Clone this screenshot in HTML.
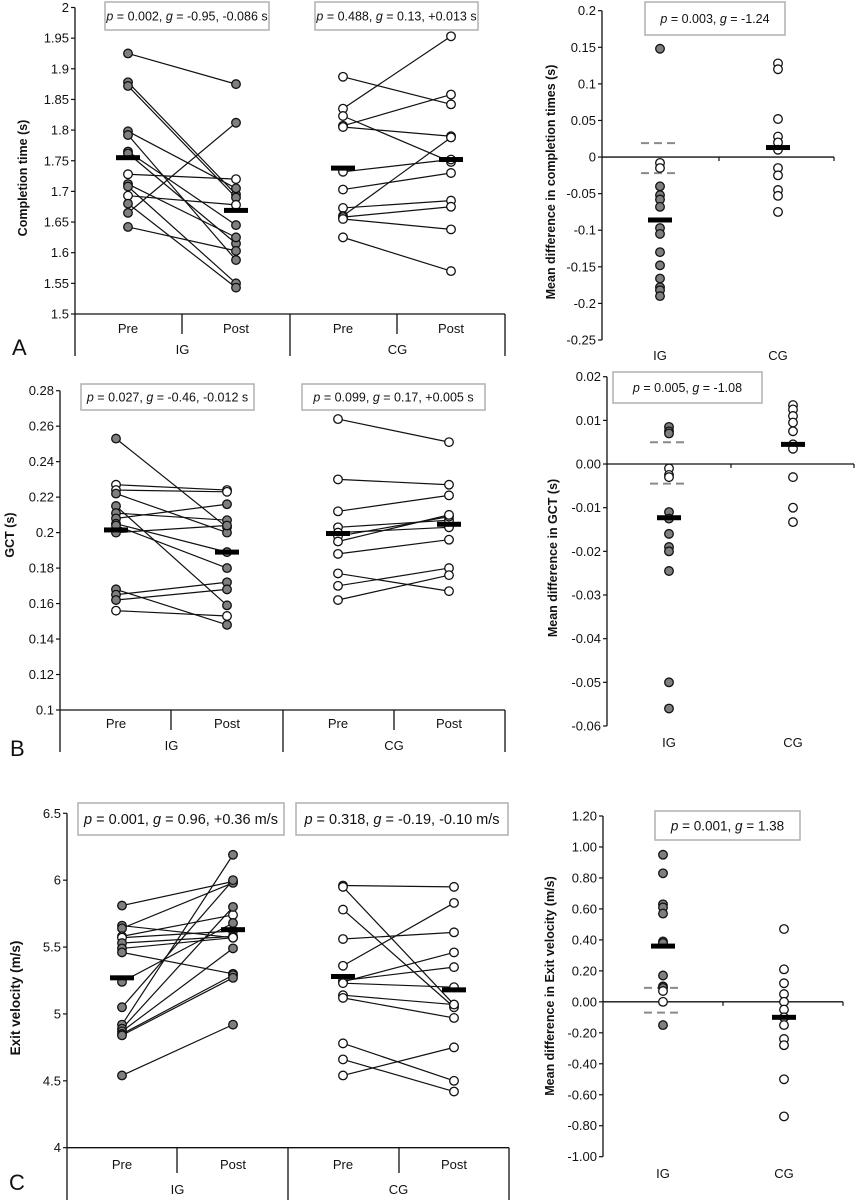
<!DOCTYPE html>
<html><head><meta charset="utf-8">
<style>
html,body{margin:0;padding:0;background:#fff;}
svg{display:block;font-family:"Liberation Sans",Arial,sans-serif;}
</style></head>
<body>
<svg id="fig" width="857" height="1200" viewBox="0 0 857 1200" xmlns="http://www.w3.org/2000/svg"></svg>
<script>
// ---------- DATA ----------
// Panel A: completion time
const aIgPre  = [1.925,1.878,1.872,1.798,1.792,1.765,1.762,1.728,1.712,1.708,1.693,1.680,1.665,1.642];
const aIgPost = [1.875,1.695,1.690,1.705,1.588,1.645,1.615,1.720,1.625,1.550,1.678,1.543,1.812,1.603];
const aIgOpen = [0,0,0,0,0,0,0,1,0,0,1,0,0,0];
const aCgPre  = [1.887,1.835,1.823,1.807,1.805,1.732,1.703,1.673,1.660,1.658,1.655,1.625];
const aCgPost = [1.842,1.953,1.748,1.858,1.790,1.752,1.730,1.685,1.788,1.675,1.638,1.570];
const aMeans  = [1.755,1.669,1.738,1.752];
const aTicks  = ["2","1.95","1.9","1.85","1.8","1.75","1.7","1.65","1.6","1.55","1.5"];
const aDiffIg = [0.148,-0.008,-0.015,-0.040,-0.052,-0.058,-0.068,-0.097,-0.105,-0.130,-0.148,-0.166,-0.178,-0.182,-0.190];
const aDiffIgOpen = [0,1,1,0,0,0,0,0,0,0,0,0,0,0,0];
const aDiffCg = [0.128,0.120,0.052,0.028,0.020,0.010,-0.015,-0.025,-0.045,-0.053,-0.075];
const aDiffMeans = [-0.086,0.013];
const aDiffDash = [0.019,-0.022];
const aDiffTicks = ["0.2","0.15","0.1","0.05","0","-0.05","-0.1","-0.15","-0.2","-0.25"];
// Panel B: GCT
const bIgPre  = [0.253,0.227,0.224,0.222,0.215,0.211,0.208,0.205,0.204,0.200,0.168,0.165,0.162,0.156];
const bIgPost = [0.203,0.224,0.223,0.200,0.159,0.207,0.216,0.189,0.180,0.204,0.148,0.172,0.168,0.153];
const bIgOpen = [0,1,1,0,0,0,0,0,0,0,0,0,0,1];
const bCgPre  = [0.264,0.230,0.212,0.203,0.200,0.198,0.195,0.188,0.177,0.170,0.162];
const bCgPost = [0.251,0.227,0.221,0.207,0.203,0.209,0.210,0.196,0.167,0.180,0.176];
const bMeans  = [0.2015,0.189,0.1995,0.2047];
const bTicks  = ["0.28","0.26","0.24","0.22","0.2","0.18","0.16","0.14","0.12","0.1"];
const bDiffIg = [0.0085,0.0075,0.007,-0.001,-0.0025,-0.003,-0.011,-0.0125,-0.016,-0.019,-0.020,-0.0245,-0.050,-0.056];
const bDiffIgOpen = [0,0,0,1,1,1,0,0,0,0,0,0,0,0];
const bDiffCg = [0.0135,0.0125,0.011,0.0095,0.0075,0.0045,0.0035,-0.003,-0.010,-0.0133];
const bDiffMeans = [-0.0123,0.0045];
const bDiffDash = [0.005,-0.0045];
const bDiffTicks = ["0.02","0.01","0.00","-0.01","-0.02","-0.03","-0.04","-0.05","-0.06"];
// Panel C: exit velocity
const cIgPre  = [5.81,5.66,5.64,5.58,5.57,5.53,5.49,5.46,5.24,5.05,4.92,4.89,4.87,4.85,4.84,4.54];
const cIgPost = [5.99,5.57,5.98,5.74,5.62,5.58,5.57,5.30,5.68,6.00,6.19,5.80,5.49,5.29,5.27,4.92];
const cIgPreOpen  = [0,0,0,1,1,0,0,0,0,0,0,0,0,0,0,0];
const cIgPostOpen = [0,1,0,1,0,0,1,0,0,0,0,0,0,0,0,0];
const cCgPre  = [5.96,5.95,5.78,5.56,5.36,5.24,5.25,5.23,5.14,5.12,4.78,4.66,4.54];
const cCgPost = [5.95,5.07,5.05,5.61,5.83,5.46,5.35,5.20,5.07,4.97,4.50,4.42,4.75];
const cMeans  = [5.27,5.63,5.28,5.18];
const cTicks  = ["6.5","6","5.5","5","4.5","4"];
const cDiffIg = [0.95,0.83,0.63,0.61,0.57,0.39,0.38,0.17,0.10,0.09,0.07,0.00,-0.15];
const cDiffIgOpen = [0,0,0,0,0,0,0,0,0,0,1,1,0];
const cDiffCg = [0.47,0.21,0.12,0.05,0.00,-0.05,-0.10,-0.15,-0.24,-0.28,-0.50,-0.74];
const cDiffMeans = [0.36,-0.10];
const cDiffDash = [0.09,-0.07];
const cDiffTicks = ["1.20","1.00","0.80","0.60","0.40","0.20","0.00","-0.20","-0.40","-0.60","-0.80","-1.00"];

// ---------- RENDER ----------
const NS="http://www.w3.org/2000/svg";
const svg=document.getElementById('fig');
function mk(tag,attrs,parent){const e=document.createElementNS(NS,tag);for(const k in attrs)e.setAttribute(k,attrs[k]);(parent||svg).appendChild(e);return e;}
function txt(str,attrs,parent){const e=mk('text',attrs,parent);e.textContent=str;return e;}
function scale(v0,v1,p0,p1){return v=>p0+(v-v0)*(p1-p0)/(v1-v0);}
const GRAY="#7f7f7f", R=4.3;

function dot(g,x,y,open){
  const c=mk('circle',{cx:x,cy:y,r:R,fill:open?'#fff':GRAY,stroke:'#111','stroke-width':1.3},g);
  
  
}
function meanBar(g,x,y){
  const r=mk('rect',{x:x-12,y:y-2.5,width:24,height:5,fill:'#000'},g);
  
  
}
function box(g,x,y,w,h,parts,fs){
  const b=mk('rect',{x:x,y:y,width:w,height:h,fill:'#fff',stroke:'#b0b0b0','stroke-width':1.5},g);
  
  
  const t=mk('text',{x:x+w/2,y:y+h/2+fs*0.36,'text-anchor':'middle','font-size':fs,fill:'#111'},g);
  
  
  parts.forEach(p=>{const s=mk('tspan',{'font-style':p[1]?'italic':'normal'},t);s.textContent=p[0];});
}

function pairedPanel(o){
  const g=mk('g',{});
  
  
  const y=scale(o.vmin,o.vmax,o.yB,o.yT);
  // y axis
  mk('line',{x1:o.ax,y1:o.yT,x2:o.ax,y2:o.catBottom,stroke:'#111','stroke-width':1.3},g);
  mk('line',{x1:o.ax,y1:o.yB,x2:o.axEnd,y2:o.yB,stroke:'#111','stroke-width':1.3},g);
  const n=o.ticks.length;
  o.ticks.forEach((t,i)=>{
    const v=o.vmax-(o.vmax-o.vmin)*i/(n-1), yy=y(v);
    mk('line',{x1:o.ax-4,y1:yy,x2:o.ax,y2:yy,stroke:'#111','stroke-width':1.2},g);
    const l=txt(t,{x:o.ax-6,y:yy+4.5,'text-anchor':'end','font-size':13,fill:'#111'},g);
    
    
  });
  // category separators
  mk('line',{x1:o.sepShort,y1:o.yB,x2:o.sepShort,y2:o.sepShortEnd,stroke:'#111','stroke-width':1.3},g);
  mk('line',{x1:o.xs[2]+(o.xs[1]-o.sepShort),y1:o.yB,x2:o.xs[2]+(o.xs[1]-o.sepShort),y2:o.sepShortEnd,stroke:'#111','stroke-width':1.3},g);
  mk('line',{x1:o.sepMid,y1:o.yB,x2:o.sepMid,y2:o.catBottom,stroke:'#111','stroke-width':1.3},g);
  mk('line',{x1:o.axEnd,y1:o.yB,x2:o.axEnd,y2:o.catBottom,stroke:'#111','stroke-width':1.3},g);
  ['Pre','Post','Pre','Post'].forEach((s,i)=>{
    const l=txt(s,{x:o.xs[i],y:o.preY,'text-anchor':'middle','font-size':13,fill:'#111'},g);
    
    
  });
  [['IG',(o.ax+o.sepMid)/2],['CG',(o.sepMid+o.axEnd)/2]].forEach(p=>{
    const l=txt(p[0],{x:p[1],y:o.grpY,'text-anchor':'middle','font-size':13,fill:'#111'},g);
    
    
  });
  const tt=txt(o.title,{transform:`translate(${o.titleX},${o.titleY}) rotate(-90)`,'text-anchor':'middle','font-size':o.titleFs||12.5,'font-weight':'bold',fill:'#111'},g);
  
  
  const pl=txt(o.letter,{x:o.letterX,y:o.letterY,'font-size':22,fill:'#111'},g);
  
  
  box(g,o.box1[0],o.box1[1],o.box1[2],o.box1[3],o.box1t,o.boxFs);
  box(g,o.box2[0],o.box2[1],o.box2[2],o.box2[3],o.box2t,o.boxFs);
  // lines
  o.igPre.forEach((v,i)=>{const l=mk('line',{x1:o.xs[0],y1:y(v),x2:o.xs[1],y2:y(o.igPost[i]),stroke:'#111','stroke-width':1.2},g);});
  o.cgPre.forEach((v,i)=>{const l=mk('line',{x1:o.xs[2],y1:y(v),x2:o.xs[3],y2:y(o.cgPost[i]),stroke:'#111','stroke-width':1.2},g);});
  o.igPre.forEach((v,i)=>dot(g,o.xs[0],y(v),o.igPreOpen[i]));
  o.igPost.forEach((v,i)=>dot(g,o.xs[1],y(v),o.igPostOpen[i]));
  o.cgPre.forEach(v=>dot(g,o.xs[2],y(v),1));
  o.cgPost.forEach(v=>dot(g,o.xs[3],y(v),1));
  o.means.forEach((m,i)=>meanBar(g,o.xs[i],y(m)));
}

function diffPanel(o){
  const g=mk('g',{});
  
  
  const y=scale(o.vmin,o.vmax,o.yB,o.yT);
  const n=o.ticks.length;
  mk('line',{x1:o.ax,y1:o.yT,x2:o.ax,y2:o.yB,stroke:'#111','stroke-width':1.3},g);
  o.ticks.forEach((t,i)=>{
    const v=o.vmax-(o.vmax-o.vmin)*i/(n-1), yy=y(v);
    mk('line',{x1:o.ax-4,y1:yy,x2:o.ax,y2:yy,stroke:'#111','stroke-width':1.2},g);
    const l=txt(t,{x:o.ax-6,y:yy+4.5,'text-anchor':'end','font-size':13,fill:'#111'},g);
    
    
  });
  const y0=y(0);
  mk('line',{x1:o.ax,y1:y0,x2:o.axEnd,y2:y0,stroke:'#111','stroke-width':1.3},g);
  mk('line',{x1:o.midTick,y1:y0,x2:o.midTick,y2:y0+4,stroke:'#111','stroke-width':1.2},g);
  mk('line',{x1:o.axEnd,y1:y0,x2:o.axEnd,y2:y0+4,stroke:'#111','stroke-width':1.2},g);
  [['IG',o.xs[0]],['CG',o.xs[1]]].forEach(p=>{
    const l=txt(p[0],{x:p[1],y:o.labY,'text-anchor':'middle','font-size':13,fill:'#111'},g);
    
    
  });
  const tt=txt(o.title,{transform:`translate(${o.titleX},${o.titleY}) rotate(-90)`,'text-anchor':'middle','font-size':12.5,'font-weight':'bold',fill:'#111'},g);
  
  
  box(g,o.box[0],o.box[1],o.box[2],o.box[3],o.boxt,o.boxFs);
  o.dash.forEach(d=>{
    const l=mk('line',{x1:o.xs[0]-19,y1:y(d),x2:o.xs[0]+19,y2:y(d),stroke:'#8a8a8a','stroke-width':2,'stroke-dasharray':'8,5'},g);
    
    
  });
  o.ig.forEach((v,i)=>dot(g,o.xs[0],y(v),o.igOpen[i]));
  o.cg.forEach(v=>dot(g,o.xs[1],y(v),1));
  o.means.forEach((m,i)=>meanBar(g,o.xs[i],y(m)));
}

pairedPanel({name:'panel-a-completion-time',vmin:1.5,vmax:2,yT:7.5,yB:314,ax:75,axEnd:505,
  xs:[128,236,343,451],sepShort:182,sepShortEnd:334,sepMid:290,catBottom:356,preY:333,grpY:354,
  title:'Completion time (s)',titleX:27,titleY:178,letter:'A',letterX:12,letterY:355,
  box1:[105,2,164,28],box1t:[['p',1],[' = 0.002, ',0],['g',1],[' = -0.95, -0.086 s',0]],
  box2:[315,2,163,28],box2t:[['p',1],[' = 0.488, ',0],['g',1],[' = 0.13, +0.013 s',0]],boxFs:12.5,
  ticks:aTicks,igPre:aIgPre,igPost:aIgPost,igPreOpen:aIgOpen,igPostOpen:aIgOpen,cgPre:aCgPre,cgPost:aCgPost,means:aMeans});
diffPanel({name:'panel-a-difference',vmin:-0.25,vmax:0.2,yT:10.7,yB:340,ax:602,axEnd:834,midTick:719,xs:[660,778],labY:360,
  title:'Mean difference in completion times (s)',titleX:555,titleY:182,box:[645,2,140,33],
  boxt:[['p',1],[' = 0.003, ',0],['g',1],[' = -1.24',0]],boxFs:12.5,
  ticks:aDiffTicks,ig:aDiffIg,igOpen:aDiffIgOpen,cg:aDiffCg,means:aDiffMeans,dash:aDiffDash});

pairedPanel({name:'panel-b-gct',vmin:0.1,vmax:0.28,yT:390.7,yB:710,ax:60,axEnd:505,
  xs:[116,227,338,449],sepShort:171,sepShortEnd:730,sepMid:283,catBottom:752,preY:728,grpY:750,
  title:'GCT (s)',titleX:14,titleY:535,letter:'B',letterX:10,letterY:756,
  box1:[81,384,173,26],box1t:[['p',1],[' = 0.027, ',0],['g',1],[' = -0.46, -0.012 s',0]],
  box2:[302,384,183,26],box2t:[['p',1],[' = 0.099, ',0],['g',1],[' = 0.17, +0.005 s',0]],boxFs:12.5,
  ticks:bTicks,igPre:bIgPre,igPost:bIgPost,igPreOpen:bIgOpen,igPostOpen:bIgOpen,cgPre:bCgPre,cgPost:bCgPost,means:bMeans});
diffPanel({name:'panel-b-difference',vmin:-0.06,vmax:0.02,yT:376.7,yB:726,ax:607,axEnd:854,midTick:731,xs:[669,793],labY:747,
  title:'Mean difference in GCT (s)',titleX:557,titleY:558,box:[613,372,149,31],
  boxt:[['p',1],[' = 0.005, ',0],['g',1],[' = -1.08',0]],boxFs:12.5,
  ticks:bDiffTicks,ig:bDiffIg,igOpen:bDiffIgOpen,cg:bDiffCg,means:bDiffMeans,dash:bDiffDash});

pairedPanel({name:'panel-c-exit-velocity',vmin:4,vmax:6.5,yT:813.3,yB:1147.7,ax:67,axEnd:509,
  xs:[122,233,343,454],sepShort:177,sepShortEnd:1173,sepMid:288,catBottom:1200,preY:1169,grpY:1194,
  title:'Exit velocity (m/s)',titleX:20,titleY:998,titleFs:13.5,letter:'C',letterX:9,letterY:1190,
  box1:[78,803,206,32],box1t:[['p',1],[' = 0.001, ',0],['g',1],[' = 0.96, +0.36 m/s',0]],
  box2:[296,803,212,32],box2t:[['p',1],[' = 0.318, ',0],['g',1],[' = -0.19, -0.10 m/s',0]],boxFs:14.5,
  ticks:cTicks,igPre:cIgPre,igPost:cIgPost,igPreOpen:cIgPreOpen,igPostOpen:cIgPostOpen,cgPre:cCgPre,cgPost:cCgPost,means:cMeans});
diffPanel({name:'panel-c-difference',vmin:-1,vmax:1.2,yT:816,yB:1156.7,ax:603,axEnd:843,midTick:723,xs:[663,784],labY:1178,
  title:'Mean difference in Exit velocity (m/s)',titleX:554,titleY:986,box:[655,811,145,29],
  boxt:[['p',1],[' = 0.001, ',0],['g',1],[' = 1.38',0]],boxFs:13.5,
  ticks:cDiffTicks,ig:cDiffIg,igOpen:cDiffIgOpen,cg:cDiffCg,means:cDiffMeans,dash:cDiffDash});
</script>
</body></html>
